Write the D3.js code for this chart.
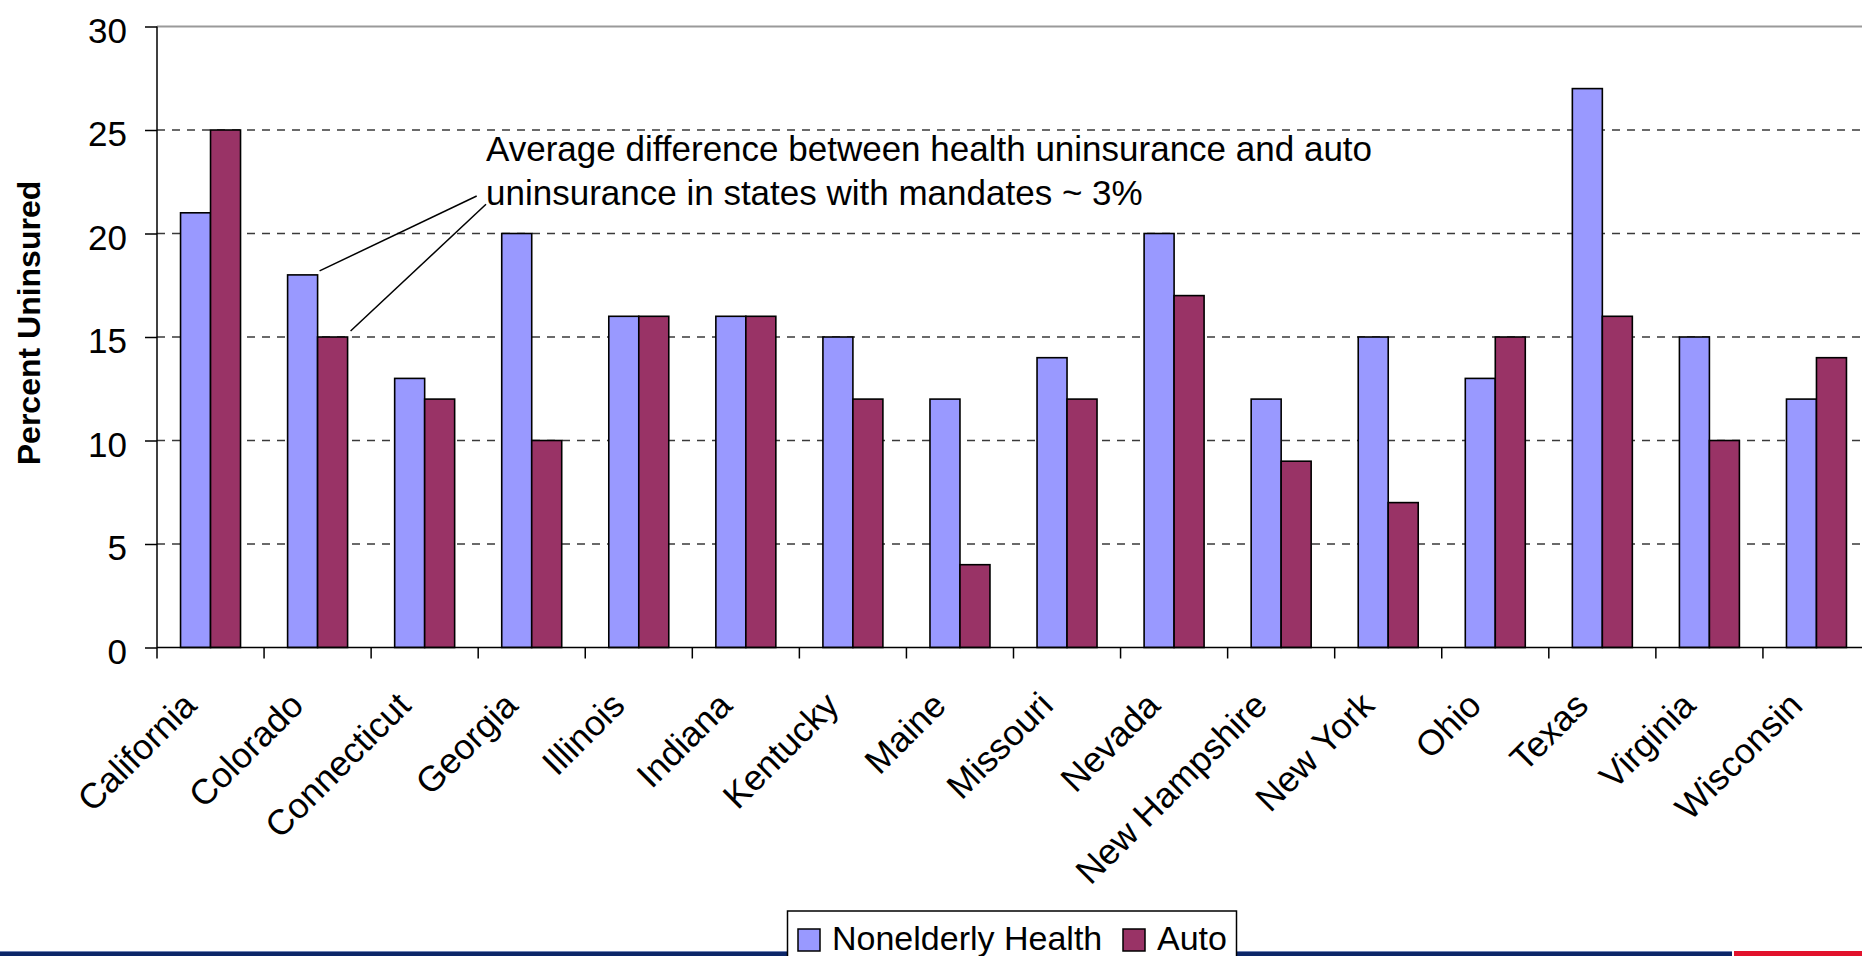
<!DOCTYPE html>
<html>
<head>
<meta charset="utf-8">
<script src="https://cdn.jsdelivr.net/npm/d3@7"></script>
<style>
  html, body { margin: 0; padding: 0; background: #fff; }
  svg { display: block; font-family: Arial, "Liberation Sans", sans-serif; }
</style>
</head>
<body>
<svg id="chart" width="1862" height="956"></svg>
<script>
// Uninsured rates by state: nonelderly health vs. auto
const states = ["California", "Colorado", "Connecticut", "Georgia", "Illinois", "Indiana",
  "Kentucky", "Maine", "Missouri", "Nevada", "New Hampshire", "New York", "Ohio",
  "Texas", "Virginia", "Wisconsin"];
const healthValues = [21, 18, 13, 20, 16, 16, 15, 12, 14, 20, 12, 15, 13, 27, 15, 12];
const autoValues   = [25, 15, 12, 10, 16, 16, 12, 4, 12, 17, 9, 7, 15, 16, 10, 14];
const seriesNames = ["Nonelderly Health", "Auto"];
const seriesColors = ["#9999FF", "#993366"];
const yTicks = [0, 5, 10, 15, 20, 25, 30];
const noteLines = [
  "Average difference between health uninsurance and auto",
  "uninsurance in states with mandates ~ 3%"
];

const svg = d3.select("#chart");

const plot = { left: 157, right: 1870, top: 26.5, bottom: 647.5 };

const x = d3.scaleBand().domain(states).range([plot.left, plot.right]).paddingInner(0).paddingOuter(0);
const xSub = d3.scaleBand().domain(seriesNames).range([0, x.bandwidth()]).paddingInner(0).paddingOuter(0.785);
const y = d3.scaleLinear().domain([0, 30]).range([plot.bottom, plot.top]);
const color = d3.scaleOrdinal().domain(seriesNames).range(seriesColors);

// plot area top border
svg.append("line")
  .attr("x1", plot.left).attr("x2", plot.right)
  .attr("y1", y(30)).attr("y2", y(30))
  .attr("stroke", "#9a9a9a").attr("stroke-width", 2);

// horizontal dashed gridlines
svg.append("g").selectAll("line")
  .data(yTicks.filter(t => t > 0 && t < 30))
  .join("line")
  .attr("x1", plot.left).attr("x2", plot.right)
  .attr("y1", d => y(d)).attr("y2", d => y(d))
  .attr("stroke", "#3a3a3a").attr("stroke-width", 1.3)
  .attr("stroke-dasharray", "8,7");

// bars
const rows = states.map((s, i) => ({ state: s, values: [healthValues[i], autoValues[i]] }));
const groups = svg.append("g").selectAll("g")
  .data(rows)
  .join("g")
  .attr("transform", d => `translate(${x(d.state)},0)`);

groups.selectAll("rect")
  .data(d => d.values.map((v, j) => ({ key: seriesNames[j], value: v })))
  .join("rect")
  .attr("x", d => xSub(d.key))
  .attr("width", xSub.bandwidth())
  .attr("y", d => y(d.value))
  .attr("height", d => y(0) - y(d.value))
  .attr("fill", d => color(d.key))
  .attr("stroke", "#000").attr("stroke-width", 1.6);

// y axis
const yAxis = svg.append("g")
  .attr("transform", `translate(${plot.left},0)`)
  .call(d3.axisLeft(y).tickValues(yTicks).tickSize(12).tickPadding(18).tickFormat(d3.format("d")));
yAxis.select(".domain").attr("stroke", "#000").attr("stroke-width", 1.5)
  .attr("d", `M0,${y(30)}V${y(0)}`);
yAxis.selectAll(".tick line").attr("stroke", "#000").attr("stroke-width", 1.5);
yAxis.selectAll(".tick text")
  .attr("font-size", 35).attr("fill", "#000")
  .attr("font-family", "Arial, 'Liberation Sans', sans-serif")
  .attr("dy", "0.45em");

// x axis: baseline and category boundary ticks
svg.append("line")
  .attr("x1", plot.left).attr("x2", plot.right)
  .attr("y1", y(0)).attr("y2", y(0))
  .attr("stroke", "#000").attr("stroke-width", 1.5);
const boundaries = states.map(s => x(s)).concat([x(states[states.length - 1]) + x.bandwidth()]);
svg.append("g").selectAll("line")
  .data(boundaries)
  .join("line")
  .attr("x1", d => d).attr("x2", d => d)
  .attr("y1", y(0)).attr("y2", y(0) + 11)
  .attr("stroke", "#000").attr("stroke-width", 1.5);

// rotated state labels
svg.append("g").selectAll("text")
  .data(states)
  .join("text")
  .attr("transform", d => `translate(${x(d) + x.bandwidth() / 2 - 12},${y(0) + 60}) rotate(-45)`)
  .attr("text-anchor", "end")
  .attr("font-size", 35.5)
  .attr("fill", "#000")
  .text(d => d);

// y axis title
svg.append("text")
  .attr("transform", "translate(40,323) rotate(-90)")
  .attr("text-anchor", "middle")
  .attr("font-size", 32)
  .attr("font-weight", "bold")
  .attr("fill", "#000")
  .text("Percent Uninsured");

// annotation with leader lines to Colorado's bars
const note = svg.append("g");
note.selectAll("text")
  .data(noteLines)
  .join("text")
  .attr("x", 486)
  .attr("y", (d, i) => 161 + i * 43.5)
  .attr("font-size", 35)
  .attr("fill", "#000")
  .text(d => d);
const coloradoX = x("Colorado");
const leaders = [
  { x1: coloradoX + xSub("Nonelderly Health") + xSub.bandwidth() + 2, y1: y(healthValues[1]) - 4, x2: 476.7, y2: 196 },
  { x1: coloradoX + xSub("Auto") + xSub.bandwidth() + 3, y1: y(autoValues[1]) - 6, x2: 486, y2: 204.3 }
];
note.selectAll("line")
  .data(leaders)
  .join("line")
  .attr("x1", d => d.x1).attr("y1", d => d.y1)
  .attr("x2", d => d.x2).attr("y2", d => d.y2)
  .attr("stroke", "#000").attr("stroke-width", 1.5);

// footer band
svg.append("rect").attr("x", 0).attr("y", 951).attr("width", 1732).attr("height", 5).attr("fill", "#0c2668");
svg.append("rect").attr("x", 0).attr("y", 951).attr("width", 1732).attr("height", 1).attr("fill", "#6f82b3");
svg.append("rect").attr("x", 1734).attr("y", 951).attr("width", 128).attr("height", 5).attr("fill", "#e2122c");

// legend
const legend = svg.append("g");
legend.append("rect")
  .attr("x", 787.5).attr("y", 911).attr("width", 449).attr("height", 60)
  .attr("fill", "#fff").attr("stroke", "#000").attr("stroke-width", 1.5);
const legendX = [798, 1123];
const legendItems = legend.selectAll("g.item")
  .data(seriesNames)
  .join("g").attr("class", "item")
  .attr("transform", (d, i) => `translate(${legendX[i]},0)`);
legendItems.append("rect")
  .attr("x", 0).attr("y", 929).attr("width", 22).attr("height", 22)
  .attr("fill", d => color(d)).attr("stroke", "#000").attr("stroke-width", 1.5);
legendItems.append("text")
  .attr("x", 34).attr("y", 950)
  .attr("font-size", 34).attr("fill", "#000")
  .text(d => d);
</script>
</body>
</html>
